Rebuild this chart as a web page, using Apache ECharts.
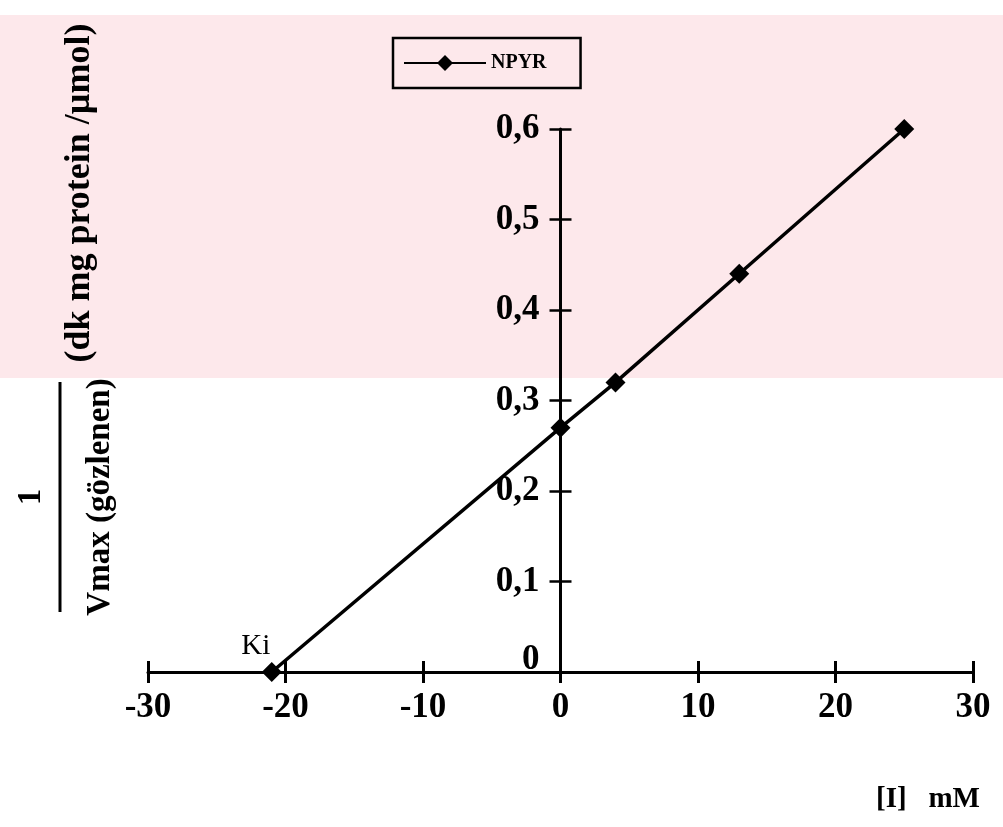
<!DOCTYPE html>
<html>
<head>
<meta charset="utf-8">
<script src="https://cdn.jsdelivr.net/npm/echarts@6/dist/echarts.min.js"></script>
<style>
html,body{margin:0;padding:0;background:#fff;}
#chart{width:1003px;height:827px;}
</style>
</head>
<body>
<div id="chart"></div>
<script>
// Data
var seriesName = 'NPYR';
var xValues = [-21, 0, 4, 13, 25];
var yValues = [0, 0.27, 0.32, 0.44, 0.6];
var pointLabels = ['Ki', '', '', '', ''];
var xTicks = [-30, -20, -10, 0, 10, 20, 30];
var yTicks = [0, 0.1, 0.2, 0.3, 0.4, 0.5, 0.6];
var xTitle = '[I]   mM';
var yTitleTop = '(dk mg protein /\u00b5mol)';
var yTitleNum = '1';
var yTitleDen = 'Vmax (g\u00f6zlenen)';

var FONT = '"Liberation Serif", "DejaVu Serif", serif';
var W = 1003, GL = 148, GR = 30;
var xMin = xTicks[0], xMax = xTicks[xTicks.length - 1];
var yMin = yTicks[0], yMax = yTicks[yTicks.length - 1];
// shift the y axis from the grid's left edge to x = 0
var yAxisOffset = -((0 - xMin) / (xMax - xMin)) * (W - GL - GR);

var seriesData = xValues.map(function (x, i) {
  var item = { value: [x, yValues[i]] };
  if (pointLabels[i]) {
    item.label = {
      show: true, formatter: pointLabels[i], position: 'top',
      offset: [-16, 4], color: '#000', fontFamily: FONT, fontSize: 29
    };
  }
  return item;
});

var chart = echarts.init(document.getElementById('chart'));
var axisFont = { color: '#000', fontFamily: FONT, fontWeight: 'bold', fontSize: 35 };

chart.setOption({
  animation: false,
  backgroundColor: '#fff',
  graphic: [
    { type: 'rect', z: -10, silent: true, shape: { x: 0, y: 15, width: 1003, height: 363 }, style: { fill: '#fde8eb' } },
    { type: 'text', x: 80, y: 193, rotation: Math.PI / 2,
      style: { text: yTitleTop, fill: '#000', font: 'bold 36px ' + FONT, textAlign: 'center', textVerticalAlign: 'middle' } },
    { type: 'text', x: 31, y: 497, rotation: Math.PI / 2,
      style: { text: yTitleNum, fill: '#000', font: 'bold 33px ' + FONT, textAlign: 'center', textVerticalAlign: 'middle' } },
    { type: 'line', shape: { x1: 60, y1: 382, x2: 60, y2: 612 }, style: { stroke: '#000', lineWidth: 3 } },
    { type: 'text', x: 100, y: 497, rotation: Math.PI / 2,
      style: { text: yTitleDen, fill: '#000', font: 'bold 33px ' + FONT, textAlign: 'center', textVerticalAlign: 'middle' } },
    { type: 'text', x: 928, y: 800,
      style: { text: xTitle, fill: '#000', font: 'bold 29px ' + FONT, textAlign: 'center', textVerticalAlign: 'middle' } }
  ],
  legend: {
    data: [seriesName],
    left: 393, top: 38,
    itemWidth: 82, itemHeight: 20, itemGap: 6,
    padding: [15, 34, 15, 10],
    borderColor: '#000', borderWidth: 2.5,
    textStyle: { color: '#000', fontFamily: FONT, fontWeight: 'bold', fontSize: 20 }
  },
  grid: { left: GL, right: GR, top: 129, bottom: 155, containLabel: false },
  xAxis: [
    {
      type: 'value', min: xMin, max: xMax, interval: 10, position: 'bottom',
      splitLine: { show: false },
      axisLine: { show: true, onZero: false, lineStyle: { color: '#000', width: 3 } },
      axisTick: { show: true, length: 11, lineStyle: { color: '#000', width: 3 } },
      axisLabel: Object.assign({ margin: 18, formatter: function (v) { return String(v); } }, axisFont)
    },
    {
      type: 'value', min: xMin, max: xMax, interval: 10, position: 'bottom',
      splitLine: { show: false },
      axisLine: { show: false, onZero: false },
      axisTick: { show: true, inside: true, length: 11, lineStyle: { color: '#000', width: 3 } },
      axisLabel: { show: false }
    }
  ],
  yAxis: [
    {
      type: 'value', min: yMin, max: yMax, interval: 0.1, position: 'left', offset: yAxisOffset,
      splitLine: { show: false },
      axisLine: { show: true, onZero: false, lineStyle: { color: '#000', width: 3 } },
      axisTick: { show: true, length: 11, lineStyle: { color: '#000', width: 2.5 } },
      axisLabel: Object.assign({
        margin: 21,
        formatter: function (v) {
          if (v === 0) return '{z|0}';
          return v.toFixed(1).replace('.', ',');
        },
        rich: { z: { color: '#000', fontFamily: FONT, fontWeight: 'bold', fontSize: 35, padding: [0, 0, 24, 0] } }
      }, axisFont)
    },
    {
      type: 'value', min: yMin, max: yMax, interval: 0.1, position: 'left', offset: yAxisOffset,
      splitLine: { show: false },
      axisLine: { show: false, onZero: false },
      axisTick: { show: true, inside: true, length: 11, lineStyle: { color: '#000', width: 2.5 } },
      axisLabel: { show: false }
    }
  ],
  series: [
    {
      name: seriesName, type: 'line', xAxisIndex: 0, yAxisIndex: 0,
      data: seriesData,
      clip: false,
      symbol: 'diamond', symbolSize: 20,
      itemStyle: { color: '#000' },
      lineStyle: { color: '#000', width: 3.5 }
    }
  ]
});
</script>
</body>
</html>
